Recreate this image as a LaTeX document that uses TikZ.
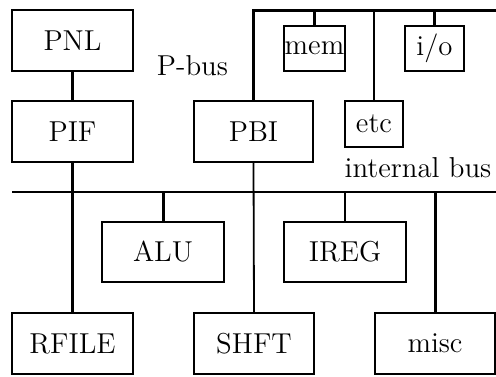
\documentclass[tikz,border=0pt]{standalone}
\begin{document}
\begin{tikzpicture}[x=0.5pt,y=-0.5pt,
  unit/.style={draw, line width=1.1pt, inner sep=0pt, font=\fontsize{14.4}{17}\selectfont},
  label/.style={inner sep=0pt, font=\fontsize{14.4}{17}\selectfont, anchor=base},
  heavy/.style={line width=1.5pt},
  light/.style={line width=0.9pt}]
\useasboundingbox (0,0) rectangle (496,376);

% processor side
\node[unit, minimum width=60.5pt, minimum height=30.5pt] (PNL) at (72.5,40.5) {PNL};
\node[unit, minimum width=60.5pt, minimum height=30.5pt] (PIF) at (72.5,131.5) {PIF};
\node[unit, minimum width=59.5pt, minimum height=30.5pt] (PBI) at (253.5,131.5) {PBI};
\node[label] (pbus) at (192.5,75) {P-bus};

% devices on the P-bus
\node[unit, minimum width=30.5pt, minimum height=22.5pt] (mem) at (314.5,48.5) {mem};
\node[unit, minimum width=29.5pt, minimum height=22.5pt] (io) at (434.5,48.5) {i/o};
\node[unit, minimum width=29pt, minimum height=23pt] (etc) at (374,124) {etc};
\node[label] (ibus) at (418,177) {internal bus};

% units on the internal bus
\node[unit, minimum width=61pt, minimum height=30pt] (ALU) at (163,252) {ALU};
\node[unit, minimum width=61pt, minimum height=30pt] (IREG) at (345,252) {IREG};
\node[unit, minimum width=60.5pt, minimum height=30.5pt] (RFILE) at (72.5,343.5) {RFILE};
\node[unit, minimum width=60pt, minimum height=30.5pt] (SHFT) at (254,343.5) {SHFT};
\node[unit, minimum width=60pt, minimum height=30.5pt] (misc) at (435,343.5) {misc};

% bus rails
\coordinate (ptop) at (496,10.5);
\coordinate (ileft) at (12,192);
\coordinate (iright) at (496,192);

% P-bus
\draw[heavy] (PBI.north) |- (ptop);
\draw[heavy] (mem.north) -- (mem.north |- ptop);
\draw[light] (etc.north) -- (etc.north |- ptop);
\draw[heavy] (io.north) -- (io.north |- ptop);
\draw[heavy] (PNL.south) -- (PIF.north);

% internal bus
\draw[light] (ileft) -- (iright);
\draw[heavy] (PIF.south) -- (RFILE.north);
\draw[light] (PBI.south) -- (SHFT.north);
\draw[heavy] (ALU.north) -- (ALU.north |- ileft);
\draw[light] (IREG.north) -- (IREG.north |- ileft);
\draw[heavy] (misc.north) -- (misc.north |- ileft);
\end{tikzpicture}
\end{document}
